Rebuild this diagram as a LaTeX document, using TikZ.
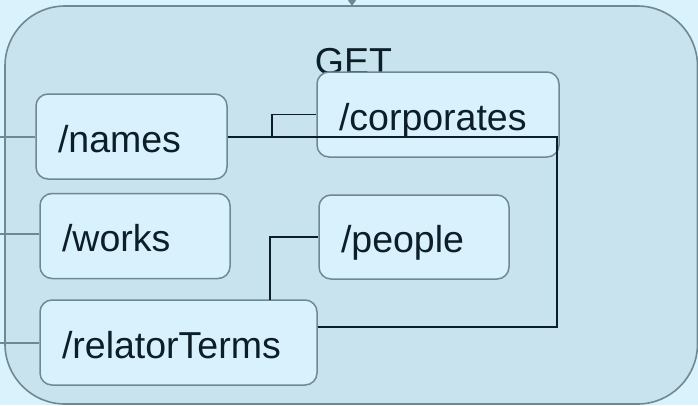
\documentclass[tikz,border=0pt]{standalone}
\usepackage{fontspec}
\setmainfont{Liberation Sans}
\usetikzlibrary{arrows.meta}
\definecolor{bgout}{RGB}{218,242,252}
\definecolor{panelfill}{RGB}{200,227,238}
\definecolor{boxfill}{RGB}{216,241,252}
\definecolor{edgegray}{RGB}{110,136,148}
\definecolor{inkdark}{RGB}{12,30,40}
\tikzset{
  pathbox/.style={draw=edgegray, line width=1.5pt, fill=boxfill, rounded corners=12pt,
    rectangle, minimum height=85pt, inner xsep=22pt, align=left,
    text height=31pt, text depth=0pt, text=inkdark,
    font=\fontsize{37.5}{40}\selectfont},
  feed/.style={draw=edgegray, line width=1.5pt},
  link/.style={draw=inkdark, line width=1.6pt}
}
\begin{document}
\begin{tikzpicture}[x=1pt,y=-1pt]
\useasboundingbox (0,0) rectangle (698,405);
\fill[bgout] (0,0) rectangle (698,405);
% outer panel
\draw[draw=edgegray, fill=panelfill, line width=1.6pt, rounded corners=60pt] (5,6) rectangle (697.5,404);
% incoming arrow at top
\coordinate (topsrc) at (352,-20);
\coordinate (toptip) at (352,6);
\draw[feed, -{Triangle[width=8pt,length=6pt]}, fill=edgegray] (topsrc) -- (toptip);
% title
\node[anchor=base, text=inkdark, font=\fontsize{37.5}{40}\selectfont, inner sep=0pt] (get) at (353.5,74.5) {GET};
% boxes
\node[pathbox, text width=147pt] (names) at (131.5,136.5) {/names};
\node[pathbox, text width=146pt] (works) at (135,236) {/works};
\node[pathbox, text width=233pt] (relator) at (178.5,342.5) {/relatorTerms};
\node[pathbox, text width=198pt] (corp) at (438,114.5) {/corporates};
\node[pathbox, text width=146pt, minimum height=84pt] (people) at (414,237) {/people};
% feeds from the left
\coordinate (fn) at (0,137);
\coordinate (fw) at (0,234);
\coordinate (fr) at (0,343);
\draw[feed] (fn) -- (fn -| names.west);
\draw[feed] (fw) -- (fw -| works.west);
\draw[feed] (fr) -- (fr -| relator.west);
% connectors
\coordinate (rj) at (557,327);
\coordinate (cj) at (272,137);
\coordinate (pj) at (270,300);
\draw[link] (names.east |- cj) -| (rj) -- (rj -| relator.east);
\draw[link] (cj) |- (corp.west);
\draw[link] (pj) |- (people.west);
\end{tikzpicture}
\end{document}
